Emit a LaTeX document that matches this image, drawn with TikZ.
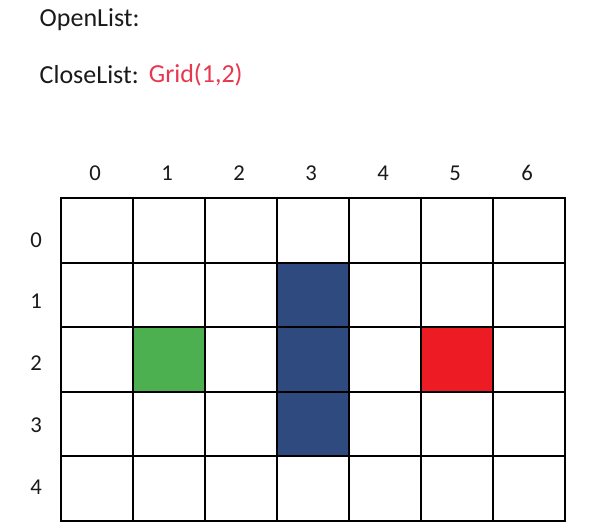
\documentclass[tikz,border=0pt]{standalone}
\usepackage{fontspec}
\setmainfont{Carlito}
\usepackage[HTML]{xcolor}
\usepackage{tikz}
\usetikzlibrary{positioning}
\definecolor{wallblue}{HTML}{2F4A7E}
\definecolor{startgreen}{HTML}{4CAF50}
\definecolor{goalred}{HTML}{ED1C24}
\definecolor{listred}{HTML}{E8384F}

\begin{document}
\begin{tikzpicture}[x=0.75pt,y=-0.75pt,
  cell/.style={draw, line width=1.6pt, minimum width=54pt, minimum height=48.4pt, inner sep=0pt, outer sep=0pt},
  lbl/.style={font=\fontsize{17}{19}\selectfont, text=black!90},
  lst/.style={font=\fontsize{19.5}{22}\selectfont, text=black!90}]
\useasboundingbox (0,0) rectangle (592,528);
% lists
\node[lst, anchor=west] (open) at (35,20) {OpenList:};
\node[lst, anchor=west] (close) at (35,75) {CloseList:};
\node[lst, text=listred, right=0.5pt of close] (closed) {Grid(1,2)};
% grid
\foreach \c in {0,...,6}
  \foreach \r in {0,...,4}
    \node[cell] (g-\c-\r) at (97+72*\c, 230.5+64.5*\r) {};
% walls, start, goal
\foreach \r in {1,2,3}
  \node[cell, fill=wallblue] (wall-\r) at (g-3-\r) {};
\node[cell, fill=startgreen] (start) at (g-1-2) {};
\node[cell, fill=goalred] (goal) at (g-5-2) {};
% labels
\foreach \c in {0,...,6}
  \node[lbl] (col-\c) at (95+72*\c, 173) {\c};
\foreach \r in {0,...,4}
  \node[lbl] (row-\r) at (36, 240+61.7*\r) {\r};
\end{tikzpicture}
\end{document}
